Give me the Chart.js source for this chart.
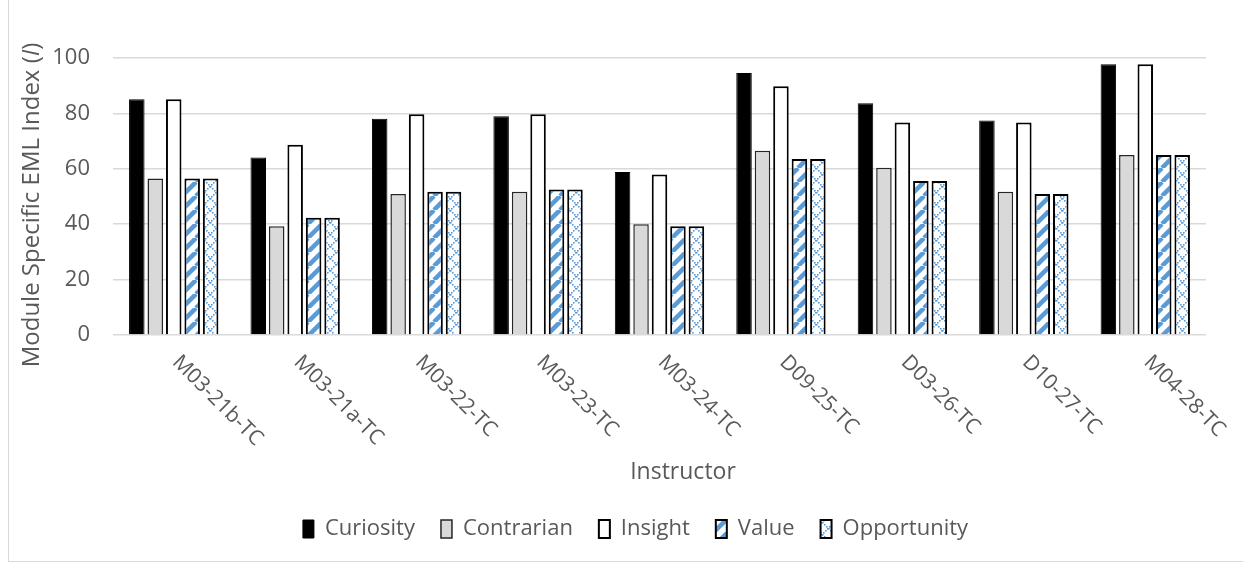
<!DOCTYPE html>
<html>
<head>
<meta charset="utf-8">
<script src="https://cdn.jsdelivr.net/npm/chart.js@4.4.0/dist/chart.umd.min.js"></script>
<style>
  html, body { margin: 0; padding: 0; background: #fff; }
  #wrap { position: relative; width: 1243px; height: 563px; }
  #frame { position: absolute; left: 8px; top: -2px; width: 1300px; height: 562px; border: 1px solid #d9d9d9; pointer-events: none; }
</style>
</head>
<body>
<div id="wrap">
  <canvas id="grafico" width="1243" height="563"></canvas>
  <div id="frame"></div>
</div>
<script>
const instrutores = ['M03-21b-TC', 'M03-21a-TC', 'M03-22-TC', 'M03-23-TC', 'M03-24-TC', 'D09-25-TC', 'D03-26-TC', 'D10-27-TC', 'M04-28-TC'];
const curiosity   = [85.1, 64.1, 78.1, 79.0, 58.8, 94.6, 83.7, 77.4, 97.7];
const contrarian  = [56.5, 39.3, 50.9, 51.7, 40.0, 66.5, 60.4, 51.7, 65.0];
const insight     = [85.1, 68.7, 79.7, 79.7, 57.9, 89.8, 76.7, 76.7, 97.7];
const valueSerie  = [56.5, 42.3, 51.7, 52.5, 39.3, 63.5, 55.6, 50.9, 65.0];
const opportunity = [56.5, 42.3, 51.7, 52.5, 39.3, 63.5, 55.6, 50.9, 65.0];

const FONTE = '"Open Sans", sans-serif';
const COR_TEXTO = '#595959';
const AZUL = '#5b9bd5';

// padrão listrado (Value)
function padraoListras() {
  const c = document.createElement('canvas');
  c.width = 14; c.height = 14;
  const g = c.getContext('2d');
  g.fillStyle = '#fff';
  g.fillRect(0, 0, 14, 14);
  g.strokeStyle = AZUL;
  g.lineWidth = 4.5;
  [-14, 0, 14].forEach(o => {
    g.beginPath();
    g.moveTo(o, 14);
    g.lineTo(o + 14, 0);
    g.stroke();
  });
  return g.createPattern(c, 'repeat');
}

// padrão treliça pontilhada (Opportunity)
function padraoTrelica() {
  const c = document.createElement('canvas');
  c.width = 12; c.height = 12;
  const g = c.getContext('2d');
  g.fillStyle = '#fff';
  g.fillRect(0, 0, 12, 12);
  g.fillStyle = AZUL;
  for (let i = 0; i < 12; i += 2) {
    g.fillRect(i, i, 1.6, 1.6);
    g.fillRect(11 - i, i, 1.6, 1.6);
  }
  return g.createPattern(c, 'repeat');
}

// títulos dos eixos e rótulos inclinados
const rotulos = {
  id: 'rotulos',
  afterLayout(chart) {
    // deixa espaço para o "100" não ser cortado
    chart.scales.y.left = 0;
  },
  afterDraw(chart) {
    const ctx = chart.ctx;
    const x = chart.scales.x;
    const area = chart.chartArea;
    ctx.save();
    ctx.fillStyle = COR_TEXTO;
    ctx.font = '21px ' + FONTE;
    ctx.textAlign = 'left';
    ctx.textBaseline = 'middle';
    instrutores.forEach((nome, i) => {
      const px = x.getPixelForTick(i);
      ctx.save();
      ctx.translate(px + 2, area.bottom + 24);
      ctx.rotate(Math.PI / 4);
      ctx.fillText(nome, 0, 0);
      ctx.restore();
    });

    // título eixo x
    ctx.textAlign = 'center';
    ctx.font = '23px ' + FONTE;
    ctx.fillText('Instructor', 683, 472);

    // título eixo y, com I em itálico
    const partes = [
      { t: 'Module Specific EML Index (', f: '24px ' + FONTE },
      { t: 'I', f: 'italic 24px ' + FONTE },
      { t: ')', f: '24px ' + FONTE }
    ];
    let total = 0;
    partes.forEach(p => { ctx.font = p.f; p.w = ctx.measureText(p.t).width; total += p.w; });
    ctx.translate(32, 205);
    ctx.rotate(-Math.PI / 2);
    ctx.textAlign = 'left';
    let pos = -total / 2;
    partes.forEach(p => { ctx.font = p.f; ctx.fillText(p.t, pos, 0); pos += p.w; });
    ctx.restore();
  }
};

const ctx = document.getElementById('grafico').getContext('2d');
new Chart(ctx, {
  type: 'bar',
  data: {
    labels: instrutores,
    datasets: [
      { label: 'Curiosity', data: curiosity, backgroundColor: '#000', borderColor: '#000', borderWidth: 1 },
      { label: 'Contrarian', data: contrarian, backgroundColor: '#d9d9d9', borderColor: '#262626', borderWidth: 1.5 },
      { label: 'Insight', data: insight, backgroundColor: '#fff', borderColor: '#000', borderWidth: 2 },
      { label: 'Value', data: valueSerie, backgroundColor: padraoListras(), borderColor: '#000', borderWidth: 2 },
      { label: 'Opportunity', data: opportunity, backgroundColor: padraoTrelica(), borderColor: '#000', borderWidth: 2 }
    ]
  },
  options: {
    responsive: false,
    animation: false,
    layout: { padding: { left: 65, right: 37, top: 58, bottom: 13 } },
    datasets: { bar: { categoryPercentage: 0.76, barPercentage: 0.84 } },
    scales: {
      x: {
        grid: { display: false },
        border: { display: false },
        ticks: { display: false },
        afterFit(scale) { scale.height = 157; }
      },
      y: {
        min: 0,
        max: 100,
        afterFit(scale) { scale.width = 48; },
        grid: { color: '#d9d9d9', lineWidth: 1.5, drawTicks: false },
        border: { display: false },
        ticks: { stepSize: 20, color: COR_TEXTO, font: { family: FONTE, size: 22 }, padding: 23 }
      }
    },
    plugins: {
      legend: {
        position: 'bottom',
        labels: {
          color: COR_TEXTO,
          font: { family: FONTE, size: 22 },
          boxWidth: 11,
          boxHeight: 18,
          padding: 26
        }
      },
      tooltip: { enabled: false }
    }
  },
  plugins: [rotulos]
});
</script>
</body>
</html>
